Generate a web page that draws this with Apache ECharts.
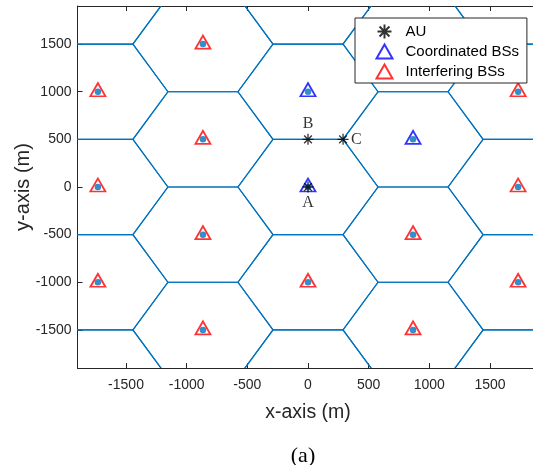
<!DOCTYPE html>
<html>
<head>
<meta charset="utf-8">
<script src="https://cdn.jsdelivr.net/npm/echarts@6/dist/echarts.min.js"></script>
<style>html,body{margin:0;padding:0;background:#fff}#c{width:533px;height:465px}</style>
</head>
<body>
<div id="c"></div>
<script>
// hexagonal cell centres (m)
const cellX = [-1732,-1732,-1732,-1732,-1732, -866,-866,-866,-866, 0,0,0,0,0, 866,866,866,866, 1732,1732,1732,1732,1732];
const cellY = [-2000,-1000,0,1000,2000, -1500,-500,500,1500, -2000,-1000,0,1000,2000, -1500,-500,500,1500, -2000,-1000,0,1000,2000];
const cellRadius = 577.35;
// coordinated BSs
const coordX = [0, 0, 866];
const coordY = [0, 1000, 500];
// interfering BSs
const interfX = [-1732,-1732,-1732, -866,-866,-866,-866, 0, 866,866,866, 1732,1732,1732];
const interfY = [-1000,0,1000, -1500,-500,500,1500, -1000, -1500,-500,1500, -1000,0,1000];
// AU test points
const auX = [0, 0, 289];
const auY = [0, 500, 500];
const auName = ['A', 'B', 'C'];
// axis ticks
const tickVals = [-1500, -1000, -500, 0, 500, 1000, 1500];
const axisMin = -1900, axisMax = 1900;

const pairs = (xs, ys) => xs.map((x, i) => [x, ys[i]]);
const allBS = pairs(coordX, coordY).concat(pairs(interfX, interfY));
const asterisk = 'path://M0,-10L0,10M-10,0L10,0M-7.07,-7.07L7.07,7.07M-7.07,7.07L7.07,-7.07';
const axisCol = '#262626';
const sans = 'Liberation Sans, Arial, Helvetica, sans-serif';
const serif = 'Liberation Serif, Times New Roman, serif';
const labelPos = ['bottom', 'top', 'right'];

const chart = echarts.init(document.getElementById('c'));
const baseX = {
  type: 'value', min: axisMin, max: axisMax,
  splitLine: {show: false},
  axisLine: {onZero: false, lineStyle: {color: axisCol, width: 1}},
  axisTick: {inside: true, length: 5, customValues: tickVals, lineStyle: {color: axisCol}},
  axisLabel: {customValues: tickVals, formatter: v => String(v), color: axisCol, fontSize: 14, fontFamily: sans}
};
chart.setOption({
  animation: false,
  title: {text: '(a)', left: 298, top: 440, textAlign: 'center',
    textStyle: {fontFamily: serif, fontSize: 22, fontWeight: 'normal', color: '#000'}},
  grid: {left: 77.5, top: 6, width: 461, height: 362, containLabel: false, outerBoundsMode: 'none'},
  legend: {
    orient: 'vertical', left: 355, top: 18, z: 10,
    padding: [4, 8, 2, 19], itemGap: 1, itemWidth: 16, itemHeight: 14,
    backgroundColor: '#fff', borderColor: axisCol, borderWidth: 1, borderRadius: 0,
    textStyle: {fontSize: 15, fontFamily: sans, color: '#000', padding: [0, 0, 0, 8]},
    data: ['AU', 'Coordinated BSs', 'Interfering BSs']
  },
  xAxis: [
    Object.assign({}, baseX, {position: 'bottom', axisLabel: Object.assign({}, baseX.axisLabel, {margin: 10}),
      name: 'x-axis (m)', nameLocation: 'middle', nameGap: 35,
      nameTextStyle: {fontSize: 19.5, fontFamily: sans, color: axisCol}}),
    Object.assign({}, baseX, {position: 'top', axisLabel: {show: false}})
  ],
  yAxis: [
    Object.assign({}, baseX, {position: 'left', axisLabel: Object.assign({}, baseX.axisLabel, {margin: 6}),
      name: 'y-axis (m)', nameLocation: 'middle', nameGap: 44, nameMoveOverlap: false,
      nameTextStyle: {fontSize: 20, fontFamily: sans, color: axisCol}}),
    Object.assign({}, baseX, {position: 'right', axisLabel: {show: false}})
  ],
  series: [
    {
      type: 'custom', name: 'cells', clip: true, z: 1,
      data: pairs(cellX, cellY),
      renderItem: function (params, api) {
        const cx = api.value(0), cy = api.value(1);
        const pts = [];
        for (let k = 0; k < 6; k++) {
          const a = Math.PI / 3 * k;
          pts.push(api.coord([cx + cellRadius * Math.cos(a), cy + cellRadius * Math.sin(a)]));
        }
        return {type: 'polygon', shape: {points: pts},
          style: {fill: 'none', stroke: '#0072BD', lineWidth: 1.2}};
      },
      silent: true
    },
    {
      type: 'scatter', name: 'Interfering BSs', z: 3,
      symbol: 'triangle', symbolSize: [15, 13], symbolOffset: [0, -2],
      itemStyle: {color: 'none', borderColor: '#FF0000', borderWidth: 1.8},
      data: pairs(interfX, interfY)
    },
    {
      type: 'scatter', name: 'Coordinated BSs', z: 3,
      symbol: 'triangle', symbolSize: [15, 13], symbolOffset: [0, -2],
      itemStyle: {color: 'none', borderColor: '#0000FF', borderWidth: 1.8},
      data: pairs(coordX, coordY)
    },
    {
      type: 'scatter', name: 'BS', z: 4,
      symbol: 'circle', symbolSize: 6.5,
      itemStyle: {color: '#0072BD'},
      data: allBS
    },
    {
      type: 'scatter', name: 'AU', z: 5,
      symbol: asterisk, symbolSize: 11,
      itemStyle: {color: 'none', borderColor: '#000', borderWidth: 1.3},
      label: {show: true, formatter: p => p.name, fontFamily: serif, fontSize: 16, color: '#000', distance: 0},
      data: auX.map((x, i) => ({value: [x, auY[i]], name: auName[i], label: {position: labelPos[i]}}))
    }
  ]
});
</script>
</body>
</html>
